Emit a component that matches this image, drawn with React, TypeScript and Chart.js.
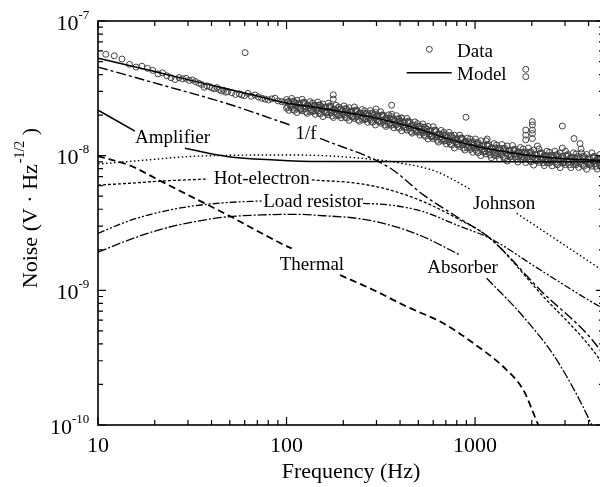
import React, { useEffect, useRef } from "react";
import { Chart, registerables } from "chart.js";

Chart.register(...registerables);

// ---------- axes ----------
const X_MIN = 10;
const X_MAX = 4830;
const Y_MIN = 1e-10;
const Y_MAX = 1e-7;

const xMajorTicks = [10, 100, 1000];
const xMajorTickLabels = ["10", "100", "1000"];
const xMinorTicks = [20, 30, 40, 50, 60, 70, 80, 90, 200, 300, 400, 500, 600, 700, 800, 900, 2000, 3000, 4000];
const yMajorTicks = [1e-10, 1e-9, 1e-8, 1e-7];
const yMajorTickExponents = ["-10", "-9", "-8", "-7"];
const yMinorTicks = [
  2e-10, 3e-10, 4e-10, 5e-10, 6e-10, 7e-10, 8e-10, 9e-10,
  2e-9, 3e-9, 4e-9, 5e-9, 6e-9, 7e-9, 8e-9, 9e-9,
  2e-8, 3e-8, 4e-8, 5e-8, 6e-8, 7e-8, 8e-8, 9e-8,
];
const xAxisTitle = "Frequency (Hz)";
const yAxisTitleMain = "Noise (V \u00B7 Hz";
const yAxisTitleSup = "-1/2";
const yAxisTitleEnd = " )";

// ---------- measured data (V/Hz^1/2) ----------
const lowFreq = [11.0, 12.2, 13.4, 14.7, 15.9, 17.1, 18.3, 19.5, 20.8, 22.0, 23.2, 24.4, 25.6, 26.9, 28.1, 29.3, 30.5, 31.7, 32.9, 34.2, 35.4, 36.6, 37.8, 39.1, 40.3, 41.5, 42.7, 43.9, 45.2, 46.4, 47.6, 48.8, 51.3, 53.7, 56.2, 57.9, 59.8, 62.5, 65.0, 68.1, 70.8, 73.9, 77.0, 80.1, 83.5, 86.9, 90.3, 94.3, 97.7];
const lowDataE8 = [5.66, 5.52, 5.22, 4.77, 4.55, 4.62, 4.45, 4.30, 4.05, 4.12, 3.92, 3.79, 3.68, 3.80, 3.72, 3.75, 3.62, 3.65, 3.55, 3.45, 3.38, 3.22, 3.30, 3.25, 3.18, 3.14, 3.20, 3.10, 3.02, 3.06, 2.96, 2.99, 2.93, 2.85, 2.88, 2.82, 2.79, 2.90, 2.76, 2.82, 2.73, 2.67, 2.63, 2.59, 2.64, 2.67, 2.55, 2.52, 2.50];

const bandFreq = [100, 103, 106.5, 110, 113.5, 117, 121, 125, 129, 133, 137.5, 142, 146.5, 151, 156, 161, 166.5, 172, 177.5, 183, 189, 195, 201.5, 208, 215, 222, 229, 236.5, 244, 252, 260, 269, 278, 287, 296, 306, 316, 326, 337, 348, 359, 371, 383, 395, 408, 421, 435, 449, 464, 479, 495, 511, 528, 545, 563, 581, 600, 620, 640, 661, 683, 705, 728, 752, 777, 802, 828, 855, 883, 912, 942, 973, 1005, 1038, 1072, 1107, 1143, 1181, 1220, 1260, 1301, 1344, 1388, 1434, 1481, 1530, 1580, 1632, 1686, 1741, 1798, 1857, 1918, 1981, 2046, 2113, 2183, 2255, 2329, 2405, 2484, 2566, 2650, 2737, 2827, 2920, 3016, 3115, 3218, 3324, 3433, 3546, 3662, 3783, 3907, 4036, 4168, 4305, 4447, 4593];
const bandUpperE8 = [2.61, 2.53, 2.66, 2.52, 2.58, 2.44, 2.62, 2.48, 2.38, 2.52, 2.46, 2.37, 2.50, 2.37, 2.42, 2.30, 2.45, 2.33, 2.22, 2.37, 2.30, 2.23, 2.34, 2.22, 2.27, 2.14, 2.30, 2.17, 2.08, 2.20, 2.15, 2.07, 2.16, 2.06, 2.09, 1.99, 2.12, 2.00, 1.91, 2.01, 1.95, 1.88, 1.98, 1.87, 1.90, 1.79, 1.89, 1.79, 1.70, 1.78, 1.73, 1.66, 1.72, 1.62, 1.65, 1.54, 1.64, 1.54, 1.46, 1.54, 1.49, 1.43, 1.49, 1.40, 1.42, 1.34, 1.42, 1.35, 1.28, 1.35, 1.33, 1.27, 1.33, 1.25, 1.29, 1.20, 1.29, 1.21, 1.15, 1.23, 1.20, 1.14, 1.21, 1.14, 1.18, 1.10, 1.19, 1.12, 1.07, 1.15, 1.12, 1.07, 1.14, 1.07, 1.10, 1.03, 1.12, 1.05, 1.01, 1.08, 1.06, 1.01, 1.08, 1.02, 1.05, 0.992, 1.08, 1.02, 0.974, 1.05, 1.03, 0.986, 1.05, 0.990, 1.02, 0.966, 1.05, 0.989, 0.951, 1.02];
const bandLowerE8 = [2.25, 2.17, 2.28, 2.17, 2.09, 2.21, 2.15, 2.23, 2.06, 2.13, 2.12, 2.03, 2.14, 2.04, 1.95, 2.08, 2.01, 2.09, 1.92, 2.00, 1.98, 1.91, 2.00, 1.90, 1.83, 1.94, 1.89, 1.95, 1.80, 1.86, 1.85, 1.77, 1.85, 1.77, 1.69, 1.80, 1.74, 1.80, 1.65, 1.70, 1.68, 1.61, 1.69, 1.60, 1.53, 1.62, 1.55, 1.60, 1.47, 1.51, 1.49, 1.42, 1.47, 1.39, 1.33, 1.39, 1.34, 1.38, 1.26, 1.30, 1.28, 1.22, 1.27, 1.20, 1.14, 1.21, 1.17, 1.21, 1.10, 1.14, 1.11, 1.06, 1.11, 1.05, 1.00, 1.06, 1.03, 1.06, 0.966, 1.01, 1.00, 0.950, 1.01, 0.959, 0.912, 0.977, 0.951, 0.988, 0.896, 0.943, 0.938, 0.889, 0.945, 0.900, 0.851, 0.916, 0.892, 0.926, 0.844, 0.888, 0.883, 0.840, 0.895, 0.855, 0.814, 0.879, 0.858, 0.893, 0.815, 0.860, 0.857, 0.818, 0.871, 0.833, 0.793, 0.856, 0.835, 0.870, 0.795, 0.839];

const midFreq = [101.5, 104.7, 108.2, 111.7, 115.2, 119, 123, 127, 131, 135.2, 139.7, 144.2, 148.7, 153.5, 158.5, 163.7, 169.2, 174.7, 180.2, 186, 192, 198.2, 204.7, 211.5, 218.5, 225.5, 232.7, 240.2, 248, 256, 264.5, 273.5, 282.5, 291.5, 301, 311, 321, 331.5, 342.5, 353.5, 365, 377, 389, 401.5, 414.5, 428, 442, 456.5, 471.5, 487, 503, 519.5, 536.5, 554, 572, 590.5, 610, 630, 650.5, 672, 694, 716.5, 740, 764.5, 789.5, 815, 841.5, 869, 897.5, 927, 957.5, 989, 1021.5, 1055, 1089.5, 1125, 1162, 1200.5, 1240, 1280.5, 1322.5, 1366, 1411, 1457.5, 1505.5, 1555, 1606, 1659, 1713.5, 1769.5, 1827.5, 1887.5, 1949.5, 2013.5, 2079.5, 2148, 2219, 2292, 2367, 2444.5, 2525, 2608, 2693.5, 2782, 2873.5, 2968, 3065.5, 3166.5, 3271, 3378.5, 3489.5, 3604, 3722.5, 3845, 3971.5, 4102, 4236.5, 4376, 4520, 4700];
const midAE8 = [2.49, 2.33, 2.53, 2.35, 2.41, 2.25, 2.45, 2.32, 2.25, 2.38, 2.34, 2.19, 2.38, 2.21, 2.26, 2.11, 2.29, 2.17, 2.11, 2.23, 2.19, 2.05, 2.23, 2.06, 2.11, 1.97, 2.14, 2.03, 1.97, 2.07, 2.04, 1.90, 2.06, 1.91, 1.95, 1.82, 1.97, 1.86, 1.80, 1.89, 1.85, 1.73, 1.88, 1.73, 1.76, 1.64, 1.76, 1.66, 1.60, 1.67, 1.64, 1.52, 1.63, 1.50, 1.52, 1.41, 1.52, 1.43, 1.38, 1.45, 1.41, 1.31, 1.41, 1.30, 1.32, 1.23, 1.33, 1.25, 1.21, 1.27, 1.24, 1.15, 1.25, 1.15, 1.17, 1.09, 1.18, 1.12, 1.08, 1.14, 1.12, 1.04, 1.13, 1.05, 1.08, 1.01, 1.09, 1.04, 1.01, 1.06, 1.05, 0.977, 1.06, 0.985, 1.01, 0.943, 1.03, 0.972, 0.948, 1.00, 0.986, 0.924, 1.01, 0.939, 0.965, 0.906, 0.988, 0.938, 0.917, 0.970, 0.959, 0.900, 0.982, 0.914, 0.939, 0.882, 0.963, 0.915, 0.895, 0.946];
const midBE8 = [2.29, 2.43, 2.20, 2.45, 2.29, 2.20, 2.49, 2.11, 2.35, 2.19, 2.16, 2.28, 2.07, 2.30, 2.15, 2.07, 2.34, 1.97, 2.20, 2.05, 2.02, 2.14, 1.93, 2.15, 2.01, 1.93, 2.18, 1.84, 2.05, 1.92, 1.88, 1.98, 1.79, 1.99, 1.86, 1.79, 2.01, 1.69, 1.88, 1.75, 1.71, 1.80, 1.63, 1.80, 1.68, 1.60, 1.80, 1.51, 1.67, 1.55, 1.51, 1.58, 1.42, 1.57, 1.45, 1.38, 1.55, 1.30, 1.44, 1.33, 1.30, 1.36, 1.22, 1.35, 1.26, 1.20, 1.35, 1.14, 1.26, 1.17, 1.14, 1.20, 1.08, 1.20, 1.12, 1.07, 1.20, 1.01, 1.13, 1.05, 1.03, 1.09, 0.982, 1.09, 1.02, 0.984, 1.11, 0.942, 1.05, 0.981, 0.964, 1.02, 0.922, 1.02, 0.957, 0.923, 1.05, 0.885, 0.986, 0.924, 0.909, 0.963, 0.875, 0.976, 0.918, 0.887, 1.01, 0.854, 0.955, 0.896, 0.884, 0.937, 0.852, 0.951, 0.893, 0.864, 0.981, 0.833, 0.931, 0.874];

const outlierFreq = [60.3, 177, 177, 298.5, 361, 361, 408, 895, 1160, 1858, 1858, 1858, 1858, 1858, 2014, 2014, 2014, 2014, 2014, 2141, 2904, 2904, 3350, 3605, 3650];
const outlierData = [5.82e-8, 2.83e-8, 2.63e-8, 2.22e-8, 2.37e-8, 2.03e-8, 1.91e-8, 1.93e-8, 1.33e-8, 4.38e-8, 3.86e-8, 1.55e-8, 1.42e-8, 1.31e-8, 1.79e-8, 1.69e-8, 1.55e-8, 1.46e-8, 1.34e-8, 1.18e-8, 1.66e-8, 1.14e-8, 1.34e-8, 1.23e-8, 1.12e-8];

// ---------- model and components (null = break for label) ----------
const modelFreq = [10, 15, 20, 30, 50, 70, 100, 150, 200, 300, 500, 700, 1000, 1500, 2000, 3000, 4600, 4830];
const modelVal = [5.30e-8, 4.64e-8, 4.21e-8, 3.67e-8, 3.10e-8, 2.77e-8, 2.46e-8, 2.26e-8, 2.11e-8, 1.90e-8, 1.58e-8, 1.35e-8, 1.18e-8, 1.06e-8, 1.00e-8, 9.5e-9, 9.21e-9, 9.18e-9];

const oneOverFFreq = [10, 21.8, 49.1, 107, 125, 150.6, 354, 532, 800, 1202, 2213, 4600, 4830];
const oneOverFVal = [4.55e-8, 3.35e-8, 2.42e-8, 1.67e-8, null, 1.345e-8, 8.10e-9, 5.11e-9, 3.52e-9, 2.43e-9, 1.006e-9, 3.61e-10, 3.2e-10];

const amplifierFreq = [10, 15.7, 21, 28.9, 49.1, 86.9, 150.6, 4830];
const amplifierVal = [2.18e-8, 1.52e-8, null, 1.135e-8, 9.83e-9, 9.29e-9, 9.05e-9, 9.02e-9];

const thermalFreq = [10, 15, 20, 30, 50, 70, 100, 106.6, 140, 192, 289, 435, 679, 980, 1472, 1803, 2167, 2400];
const thermalVal = [9.94e-9, 8.38e-9, 6.83e-9, 5.11e-9, 3.56e-9, 2.76e-9, 2.13e-9, 2.05e-9, null, 1.30e-9, 1.006e-9, 7.56e-10, 5.69e-10, 4.05e-10, 2.56e-10, 1.82e-10, 1.0e-10, 7.5e-11];

const johnsonFreq = [10, 15.7, 34.8, 110.9, 250.6, 400, 626, 960, 1250, 1663, 4422, 4830];
const johnsonVal = [8.67e-9, 9.13e-9, 9.94e-9, 1.012e-8, 9.56e-9, 8.82e-9, 7.60e-9, 5.56e-9, null, 3.73e-9, 1.50e-9, 1.38e-9];

const hotElectronFreq = [10, 14.8, 21.8, 38.3, 80, 136, 235.5, 354, 532, 800, 1202, 2213, 4600, 4830];
const hotElectronVal = [6.05e-9, 6.24e-9, 6.48e-9, 6.71e-9, null, 6.60e-9, 6.24e-9, 5.56e-9, 4.55e-9, 3.43e-9, 2.43e-9, 9.55e-10, 3.04e-10, 2.7e-10];

const loadResistorFreq = [10, 14.5, 21.8, 32.7, 49.1, 73.9, 140, 254.7, 354, 532, 800, 1202, 2213, 4600, 4830];
const loadResistorVal = [2.65e-9, 3.27e-9, 3.84e-9, 4.25e-9, 4.49e-9, 4.61e-9, null, 4.43e-9, 4.30e-9, 3.84e-9, 3.05e-9, 2.43e-9, 1.42e-9, 7.56e-10, 7.3e-10];

const absorberFreq = [10, 14.5, 21.8, 32.7, 49.1, 73.9, 110.9, 156.7, 235.5, 354, 532, 832, 980, 1153, 1803, 2713, 4159, 4830];
const absorberVal = [1.92e-9, 2.36e-9, 2.85e-9, 3.24e-9, 3.52e-9, 3.63e-9, 3.67e-9, 3.58e-9, 3.43e-9, 3.05e-9, 2.50e-9, 1.83e-9, null, 1.23e-9, 6.37e-10, 3.04e-10, 1.0e-10, 6e-11];

// curve labels anchored in data coordinates (centre x, text baseline)
const curveLabelTexts = ["Amplifier", "1/f", "Hot-electron", "Load resistor", "Thermal", "Johnson", "Absorber"];
const curveLabelFreqs = [24.85, 126.9, 73.9, 138.2, 136.4, 1425, 858.6];
const curveLabelValues = [1.235e-8, 1.33e-8, 6.16e-9, 4.16e-9, 1.416e-9, 4.02e-9, 1.345e-9];

const legendNames = ["Data", "Model"];

const SERIF = '"Liberation Serif", "Times New Roman", serif';
const DATA_COLOR = "#404040";

function pts(fs: number[], vs: (number | null)[], scale = 1) {
  return fs.map((f, i) => ({ x: f, y: vs[i] === null ? null : (vs[i] as number) * scale }));
}

function lineDs(label: string, data: any[], dash: number[], width: number) {
  return {
    label,
    data,
    showLine: true,
    borderColor: "#000",
    backgroundColor: "#000",
    borderWidth: width,
    borderDash: dash,
    pointRadius: 0,
    fill: false,
    spanGaps: false,
    cubicInterpolationMode: "monotone" as const,
  };
}

const overlayPlugin = {
  id: "overlay",
  afterDraw(chart: any) {
    const { ctx, chartArea: a, scales } = chart;
    const xs = scales.x;
    const ys = scales.y;
    ctx.save();
    // frame
    ctx.strokeStyle = "#000";
    ctx.lineWidth = 1.6;
    ctx.strokeRect(a.left, a.top, a.right - a.left, a.bottom - a.top);
    // ticks (inward, mirrored)
    ctx.lineWidth = 1.2;
    ctx.beginPath();
    const seg = (x1: number, y1: number, x2: number, y2: number) => {
      ctx.moveTo(x1, y1);
      ctx.lineTo(x2, y2);
    };
    xMajorTicks.forEach((v) => {
      const p = xs.getPixelForValue(v);
      seg(p, a.bottom, p, a.bottom - 8);
      seg(p, a.top, p, a.top + 8);
    });
    xMinorTicks.forEach((v) => {
      const p = xs.getPixelForValue(v);
      seg(p, a.bottom, p, a.bottom - 5);
      seg(p, a.top, p, a.top + 5);
    });
    yMajorTicks.forEach((v) => {
      const p = ys.getPixelForValue(v);
      seg(a.left, p, a.left + 8, p);
      seg(a.right, p, a.right - 8, p);
    });
    yMinorTicks.forEach((v) => {
      const p = ys.getPixelForValue(v);
      seg(a.left, p, a.left + 5, p);
      seg(a.right, p, a.right - 5, p);
    });
    ctx.stroke();

    ctx.fillStyle = "#000";
    ctx.textBaseline = "alphabetic";
    // x tick labels
    ctx.font = `22px ${SERIF}`;
    ctx.textAlign = "center";
    xMajorTicks.forEach((v, i) => {
      ctx.fillText(xMajorTickLabels[i], xs.getPixelForValue(v), a.bottom + 26.5);
    });
    // x title
    ctx.fillText(xAxisTitle, (a.left + a.right) / 2, a.bottom + 53);
    // y tick labels 10^n
    ctx.textAlign = "left";
    yMajorTicks.forEach((v, i) => {
      const p = ys.getPixelForValue(v);
      const exp = yMajorTickExponents[i];
      ctx.font = `13px ${SERIF}`;
      const w2 = ctx.measureText(exp).width;
      ctx.font = `22px ${SERIF}`;
      const w1 = ctx.measureText("10").width;
      const right = a.left - 8.7;
      ctx.fillText("10", right - w2 - w1, p + 8.5);
      ctx.font = `13px ${SERIF}`;
      ctx.fillText(exp, right - w2, p - 2.5);
    });
    // y title (rotated)
    ctx.save();
    ctx.translate(37, 208);
    ctx.rotate(-Math.PI / 2);
    ctx.font = `22px ${SERIF}`;
    const wa = ctx.measureText(yAxisTitleMain).width;
    const wc = ctx.measureText(yAxisTitleEnd).width;
    ctx.font = `14px ${SERIF}`;
    const wb = ctx.measureText(yAxisTitleSup).width;
    const x0 = -(wa + wb + wc + 1) / 2;
    ctx.font = `22px ${SERIF}`;
    ctx.fillText(yAxisTitleMain, x0, 0);
    ctx.font = `14px ${SERIF}`;
    ctx.fillText(yAxisTitleSup, x0 + wa + 1, -13);
    ctx.font = `22px ${SERIF}`;
    ctx.fillText(yAxisTitleEnd, x0 + wa + wb + 1, 0);
    ctx.restore();

    // curve labels
    ctx.font = `19px ${SERIF}`;
    ctx.textAlign = "center";
    curveLabelTexts.forEach((t, i) => {
      ctx.fillText(t, xs.getPixelForValue(curveLabelFreqs[i]), ys.getPixelForValue(curveLabelValues[i]));
    });

    // legend
    ctx.textAlign = "left";
    ctx.strokeStyle = DATA_COLOR;
    ctx.lineWidth = 1;
    ctx.beginPath();
    ctx.arc(429.3, 49.3, 3, 0, Math.PI * 2);
    ctx.stroke();
    ctx.fillText(legendNames[0], 457, 56.5);
    ctx.strokeStyle = "#000";
    ctx.lineWidth = 1.5;
    ctx.beginPath();
    ctx.moveTo(406.7, 72.7);
    ctx.lineTo(451.7, 72.7);
    ctx.stroke();
    ctx.fillText(legendNames[1], 457, 79.5);
    ctx.restore();
  },
};

export default function App() {
  const ref = useRef<HTMLCanvasElement>(null);
  useEffect(() => {
    const canvas = ref.current;
    if (!canvas) return;
    const dataPoints = [
      ...pts(lowFreq, lowDataE8, 1e-8),
      ...pts(bandFreq, bandUpperE8, 1e-8),
      ...pts(bandFreq, bandLowerE8, 1e-8),
      ...pts(midFreq, midAE8, 1e-8),
      ...pts(midFreq, midBE8, 1e-8),
      ...pts(outlierFreq, outlierData),
    ];
    const datasets: any[] = [
      lineDs("Model", pts(modelFreq, modelVal), [], 1.5),
      lineDs("Amplifier", pts(amplifierFreq, amplifierVal), [], 1.5),
      lineDs("1/f", pts(oneOverFFreq, oneOverFVal), [10, 3, 3, 3], 1.4),
      lineDs("Thermal", pts(thermalFreq, thermalVal), [7, 4], 1.8),
      lineDs("Johnson", pts(johnsonFreq, johnsonVal), [1.5, 2.5], 1.4),
      lineDs("Hot-electron", pts(hotElectronFreq, hotElectronVal), [3, 2], 1.3),
      lineDs("Load resistor", pts(loadResistorFreq, loadResistorVal), [7, 2, 2, 2, 2, 2], 1.3),
      lineDs("Absorber", pts(absorberFreq, absorberVal), [9, 2, 2, 2], 1.3),
      {
        label: "Data",
        data: dataPoints,
        showLine: false,
        pointRadius: 3,
        pointStyle: "circle",
        pointBorderColor: DATA_COLOR,
        pointBackgroundColor: "rgba(0,0,0,0)",
        pointBorderWidth: 1,
      },
    ];
    const chart = new Chart(canvas, {
      type: "scatter",
      data: { datasets },
      options: {
        animation: false,
        responsive: false,
        devicePixelRatio: 1,
        events: [],
        layout: { padding: { left: 98, top: 21, right: 8, bottom: 62 } },
        scales: {
          x: { type: "logarithmic", min: X_MIN, max: X_MAX, display: false },
          y: { type: "logarithmic", min: Y_MIN, max: Y_MAX, display: false },
        },
        plugins: { legend: { display: false }, tooltip: { enabled: false } },
      },
      plugins: [overlayPlugin],
    } as any);
    return () => chart.destroy();
  }, []);
  return (
    <div style={{ position: "fixed", left: 0, top: 0, width: 600, height: 487, overflow: "hidden", background: "#fff" }}>
      <canvas ref={ref} width={612} height={487} style={{ display: "block", width: 612, height: 487 }} />
    </div>
  );
}
